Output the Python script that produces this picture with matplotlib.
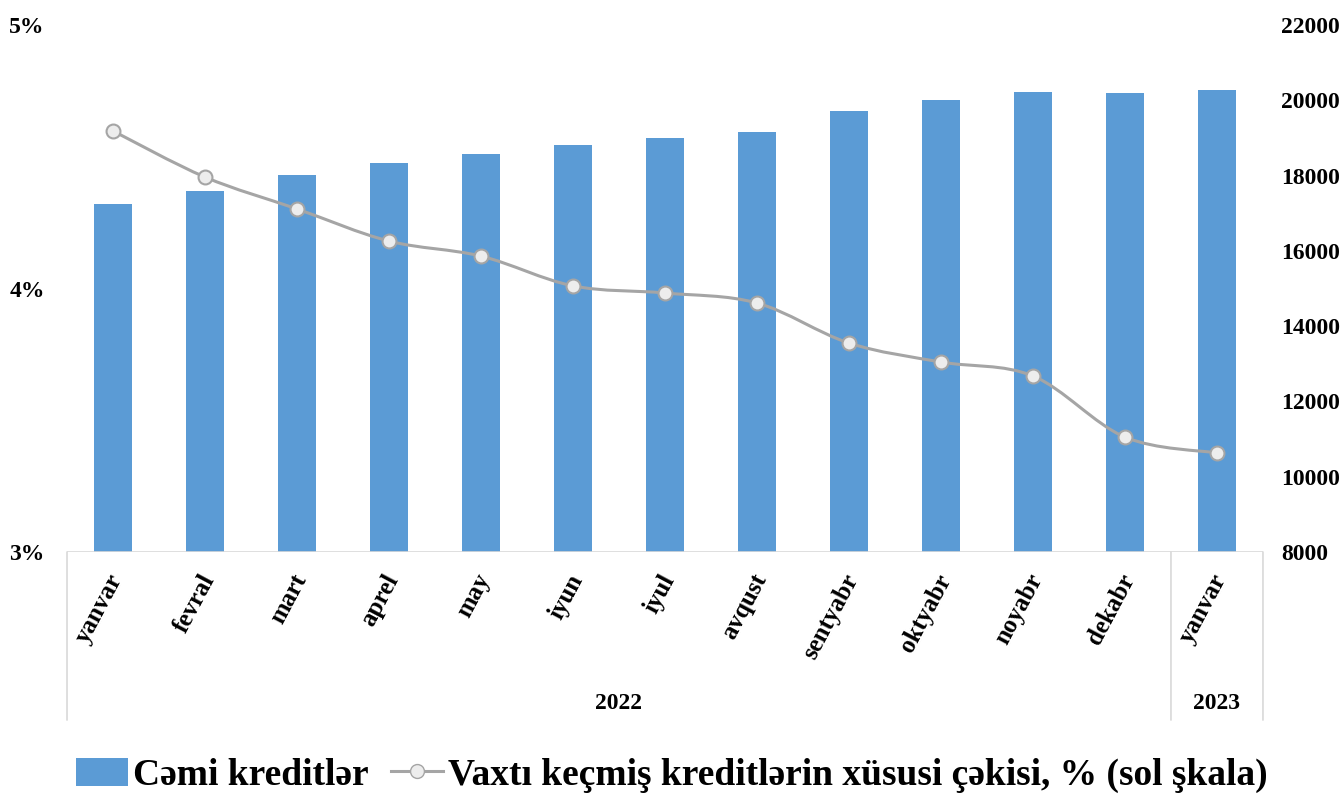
import numpy as np
import matplotlib.pyplot as plt
from matplotlib.path import Path
from matplotlib.patches import PathPatch
from matplotlib.lines import Line2D
from matplotlib.patches import Patch

plt.rcParams['font.family'] = ['Liberation Serif', 'DejaVu Serif']
plt.rcParams['font.weight'] = 'bold'

months = ["yanvar", "fevral", "mart", "aprel", "may", "iyun", "iyul",
          "avqust", "sentyabr", "oktyabr", "noyabr", "dekabr", "yanvar"]
years = ["2022", "2023"]
year_counts = [12, 1]
total_loans = [17240, 17590, 18010, 18330, 18570, 18810, 19000,
               19160, 19710, 20010, 20220, 20190, 20270]
overdue_share = [4.598, 4.423, 4.302, 4.180, 4.123, 4.010, 3.983,
                 3.945, 3.793, 3.721, 3.668, 3.436, 3.376]

bar_color = '#5B9BD5'
line_color = '#A5A5A5'
grid_color = '#D9D9D9'

fig = plt.figure(figsize=(13.43, 7.97), dpi=100)
ax = fig.add_axes([0.0499, 0.3074, 0.8905, 0.6612])
ax2 = ax.twinx()

x = np.arange(len(months))

# bars on right scale
ax2.bar(x, total_loans, width=0.42, color=bar_color, zorder=2)
ax2.set_ylim(8000, 22000)
ax2.set_yticks(np.arange(8000, 22001, 2000))
ax2.tick_params(axis='y', length=0, pad=13, labelsize=17)

# line on left scale, drawn on top
ax.set_zorder(ax2.get_zorder() + 1)
ax.patch.set_visible(False)
ax.set_ylim(3, 5)
ax.set_xlim(-0.5, len(months) - 0.5)
ax.set_yticks([3, 4, 5])
ax.set_yticklabels(["3%", "4%", "5%"])
ax.tick_params(axis='y', length=0, pad=16, labelsize=17)
ax.set_xticks([])

# smoothed line (bezier through the points, like excel)
y = np.array(overdue_share)
verts = [(x[0], y[0])]
codes = [Path.MOVETO]
for i in range(len(x) - 1):
    p0 = np.array([x[max(i - 1, 0)], y[max(i - 1, 0)]])
    p1 = np.array([x[i], y[i]])
    p2 = np.array([x[i + 1], y[i + 1]])
    p3 = np.array([x[min(i + 2, len(x) - 1)], y[min(i + 2, len(x) - 1)]])
    c1 = p1 + (p2 - p0) / 6
    c2 = p2 - (p3 - p1) / 6
    verts += [tuple(c1), tuple(c2), tuple(p2)]
    codes += [Path.CURVE4] * 3
ax.add_patch(PathPatch(Path(verts, codes), facecolor='none',
                       edgecolor=line_color, lw=2.2, zorder=3))
ax.plot(x, y, linestyle='none', marker='o', markersize=10,
        markerfacecolor='#EDEDED', markeredgecolor=line_color,
        markeredgewidth=1.5, zorder=4)

for a in (ax, ax2):
    for s in ['top', 'left', 'right', 'bottom']:
        a.spines[s].set_visible(False)
ax.axhline(3, color=grid_color, lw=1.2, zorder=1)

# category labels
for i, m in enumerate(months):
    ax.annotate(m, xy=(i, 3), xycoords='data', xytext=(3, -17),
                textcoords='offset points', rotation=62,
                rotation_mode='anchor', ha='right', va='center',
                fontsize=18, fontweight='bold')

# year group separators and labels
bounds = np.concatenate([[0], np.cumsum(year_counts)]) - 0.5
for b in bounds:
    ax.annotate('', xy=(b, 3), xycoords='data', xytext=(0, -121),
                textcoords='offset points',
                arrowprops=dict(arrowstyle='-', color=grid_color, lw=1.2,
                                shrinkA=0, shrinkB=0))
for k, yr in enumerate(years):
    mid = (bounds[k] + bounds[k + 1]) / 2
    ax.annotate(yr, xy=(mid, 3), xycoords='data', xytext=(0, -109),
                textcoords='offset points', ha='center', va='center',
                fontsize=17, fontweight='bold')

handles = [Patch(facecolor=bar_color, label='Cəmi kreditlər'),
           Line2D([0], [0], color=line_color, lw=2.2, marker='o',
                  markersize=10, markerfacecolor='#EDEDED',
                  markeredgecolor=line_color,
                  label='Vaxtı keçmiş kreditlərin xüsusi çəkisi, % (sol şkala)')]
fig.legend(handles=handles, loc='center', bbox_to_anchor=(0.5, 0.027),
           ncol=2, frameon=False, handlelength=1.4,
           handleheight=0.8, columnspacing=0.6, handletextpad=0.12,
           prop={'weight': 'bold', 'size': 27})

fig.savefig('out.png', dpi=100)
